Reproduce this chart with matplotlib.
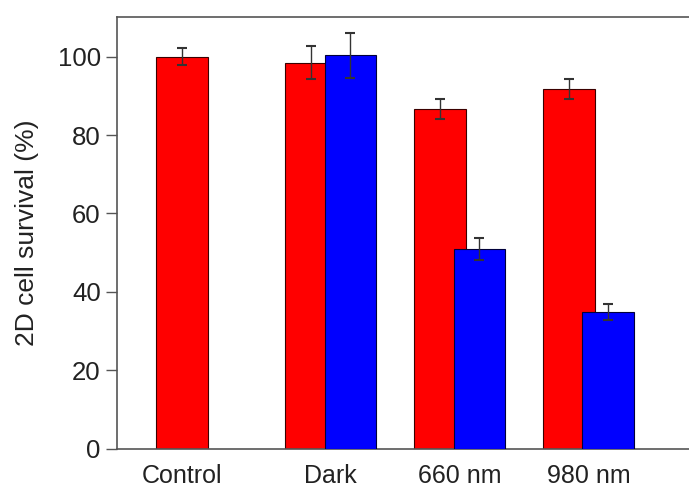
import matplotlib.pyplot as plt
import numpy as np

plt.rcParams['font.family'] = ['Liberation Sans', 'DejaVu Sans']

categories = ['Control', 'Dark', '660 nm', '980 nm']
red_vals = [100.0, 98.5, 86.6, 91.7]
red_err = [2.1, 4.3, 2.6, 2.5]
# blue series only exists for the last three groups
blue_idx = [1, 2, 3]
blue_vals = [100.3, 50.9, 34.9]
blue_err = [5.8, 2.8, 2.0]
yticks = [0, 20, 40, 60, 80, 100]

W, H = 689, 494
fig = plt.figure(figsize=(W / 100, H / 100), dpi=100)
left, right, top, bottom = 117.3, 695, 16.7, 448.5
ax = fig.add_axes([left / W, 1 - bottom / H, (right - left) / W, (bottom - top) / H])

width = 0.40
offset = 0.305
x_red = np.arange(len(categories), dtype=float)
x_blue = np.array(blue_idx, dtype=float) + offset

ax.bar(x_red, red_vals, width=width, color='#ff0000', edgecolor='#3a0000', linewidth=0.8, zorder=2)
ax.bar(x_blue, blue_vals, width=width, color='#0000ff', edgecolor='#00003a', linewidth=0.8, zorder=3)
ax.errorbar(x_red, red_vals, yerr=red_err, fmt='none', ecolor='#333333', elinewidth=1.0,
            capsize=3.3, capthick=1.5, zorder=4)
ax.errorbar(x_blue, blue_vals, yerr=blue_err, fmt='none', ecolor='#333333', elinewidth=1.0,
            capsize=3.3, capthick=1.5, zorder=4)

xt = x_red.copy()
xt[blue_idx] += offset / 2
ax.set_xticks(xt)
ax.set_xticklabels(categories, fontsize=18, color='#222222')
ax.tick_params(axis='x', length=0, pad=11)

ax.set_yticks(yticks)
ax.set_yticklabels([str(v) for v in yticks], fontsize=18.5, color='#222222')
ax.tick_params(axis='y', length=8, width=1.0, color='#555555', pad=4)

ax.set_xlim(-0.503, (right - 182.2) / 128.9)
ax.set_ylim(0, 110.2)

for s in ['left', 'bottom', 'top']:
    ax.spines[s].set_color('#555555')
    ax.spines[s].set_linewidth(1.2)
ax.spines['right'].set_visible(False)

ax.set_ylabel('2D cell survival (%)', fontsize=19, color='#222222')
ax.yaxis.set_label_coords((39 - left) / (right - left), 0.5)

fig.savefig('out.png', dpi=100)
